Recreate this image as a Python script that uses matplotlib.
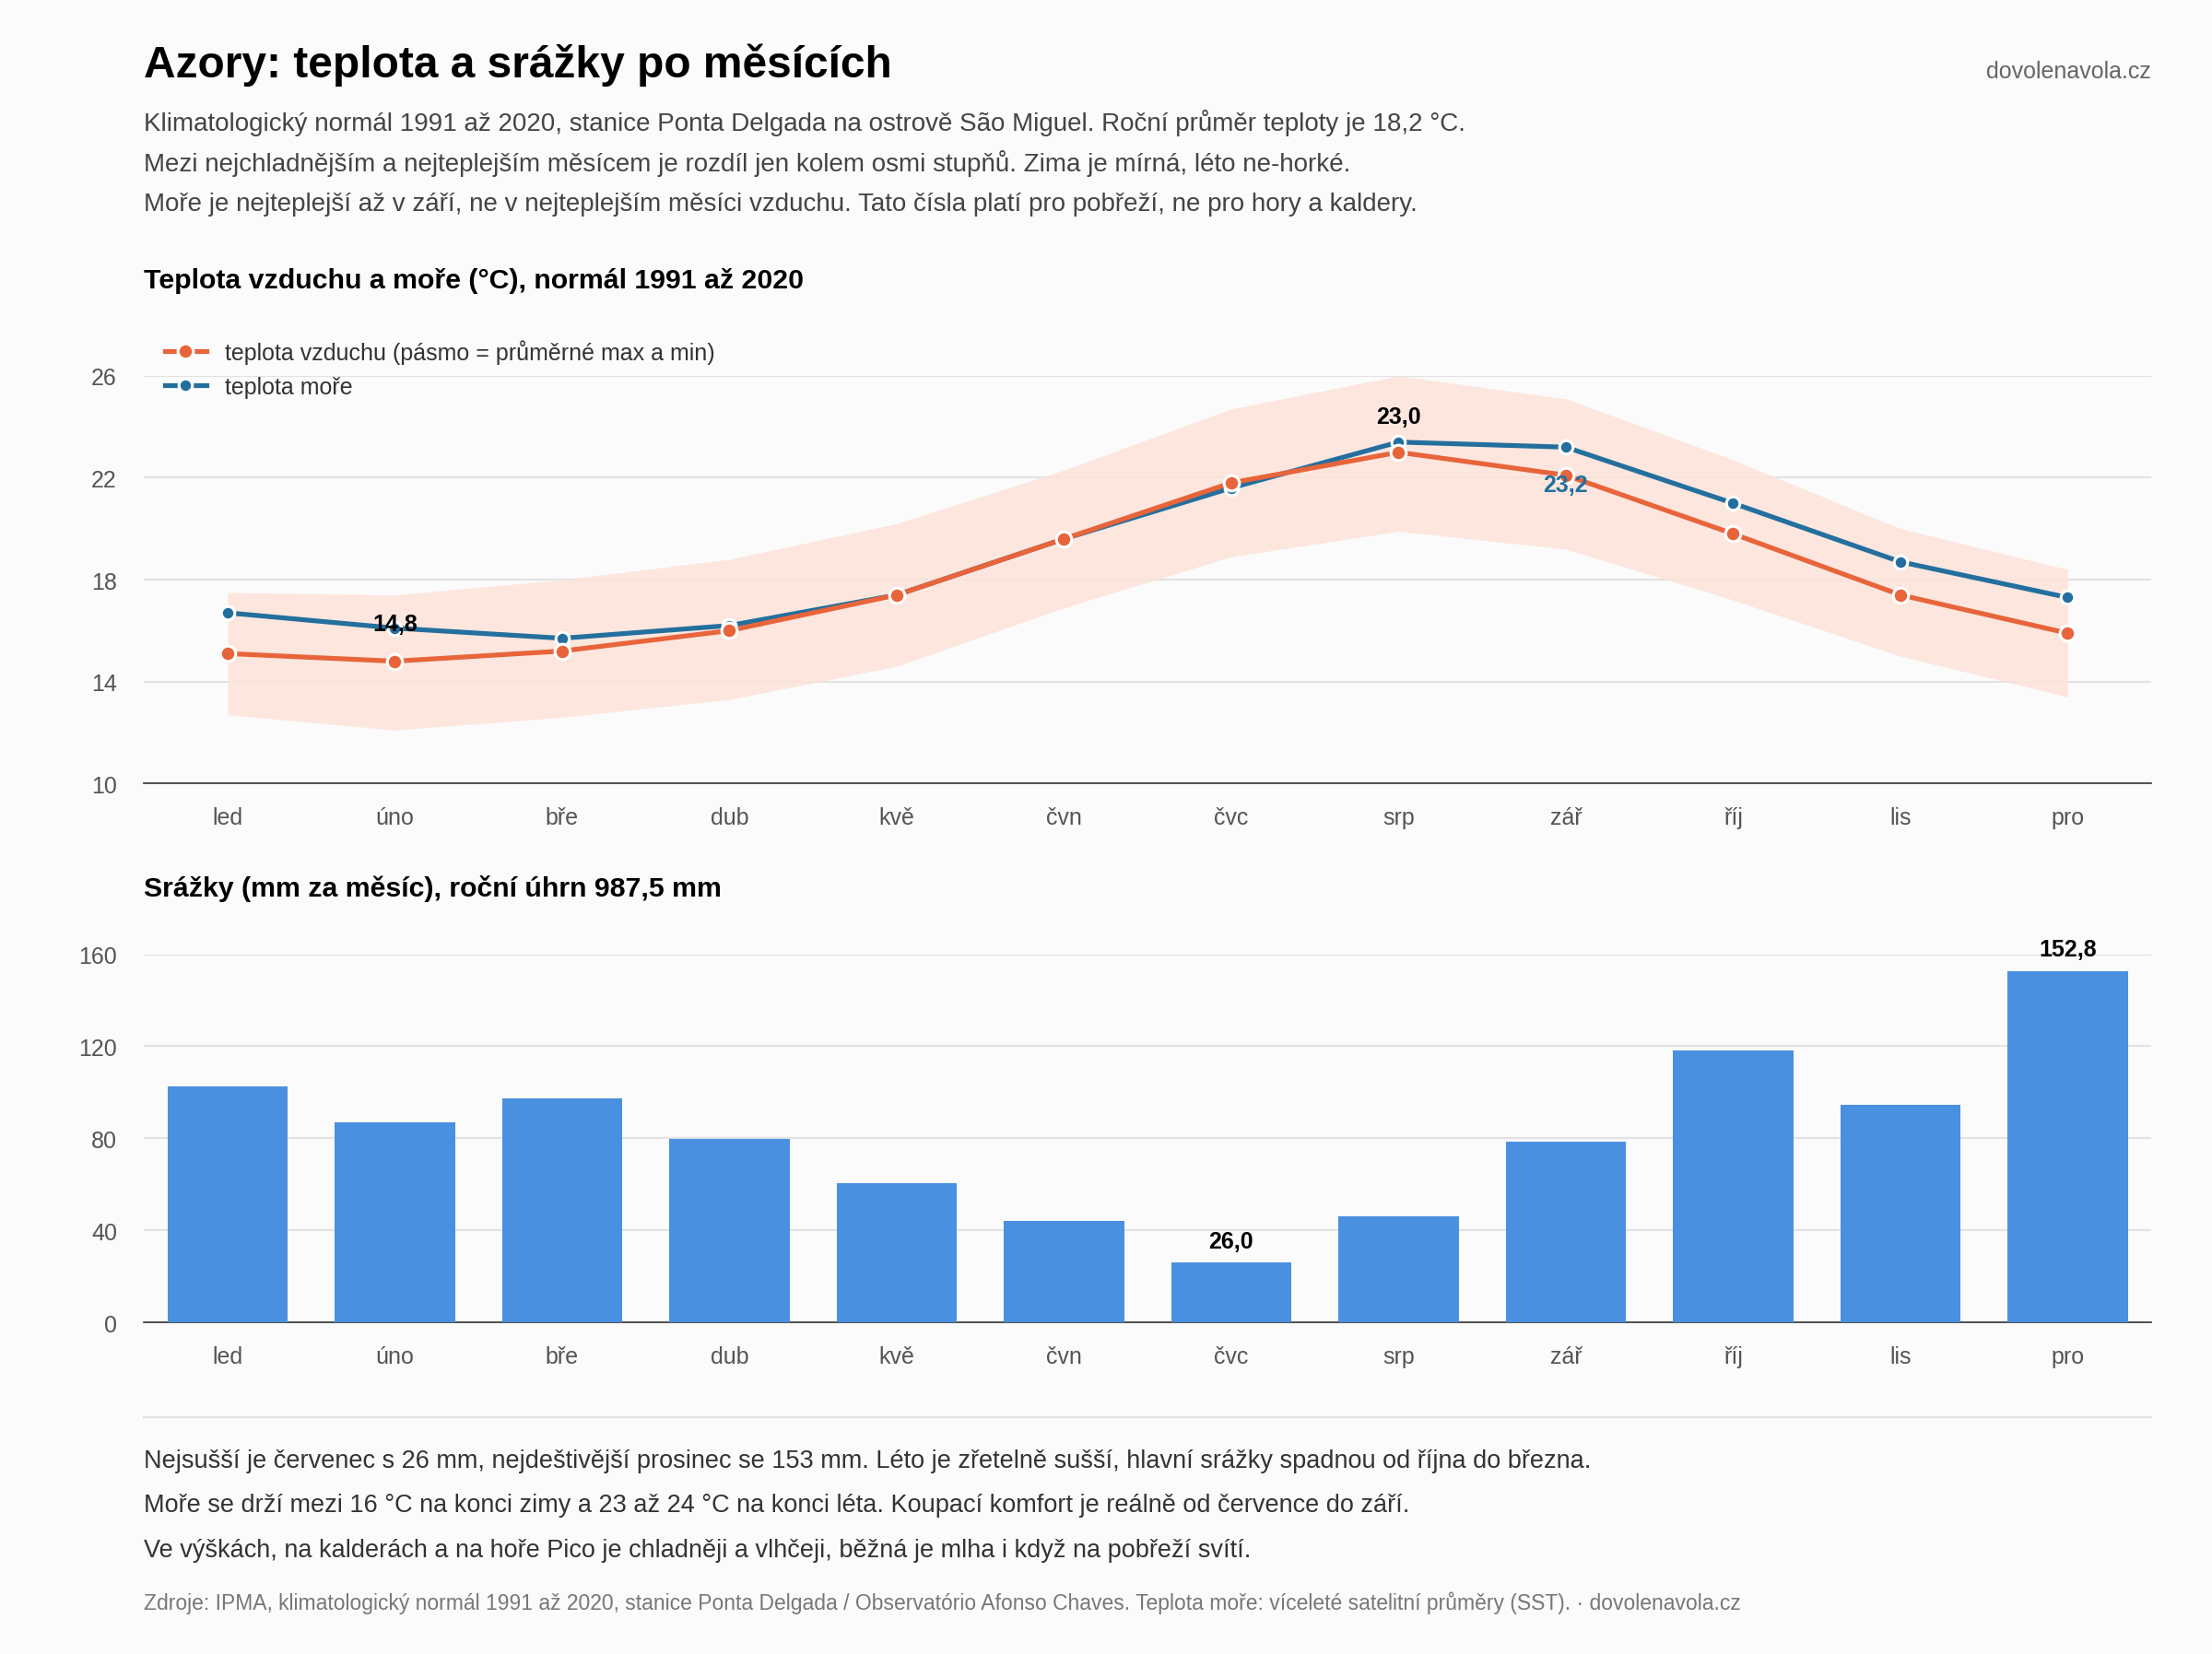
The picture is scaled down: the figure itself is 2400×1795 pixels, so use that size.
import matplotlib

matplotlib.use("Agg")
import matplotlib.pyplot as plt

plt.rcParams["font.family"] = ["Liberation Sans", "DejaVu Sans"]

mesice = ["led", "úno", "bře", "dub", "kvě", "čvn", "čvc", "srp", "zář", "říj", "lis", "pro"]
teplota_vzduchu = [15.1, 14.8, 15.2, 16.0, 17.4, 19.6, 21.8, 23.0, 22.1, 19.8, 17.4, 15.9]
teplota_max = [17.5, 17.4, 18.0, 18.8, 20.2, 22.3, 24.7, 26.0, 25.1, 22.7, 20.0, 18.4]
teplota_min = [12.7, 12.1, 12.6, 13.3, 14.6, 16.9, 18.9, 19.9, 19.2, 17.2, 15.0, 13.4]
teplota_more = [16.7, 16.1, 15.7, 16.2, 17.4, 19.6, 21.6, 23.4, 23.2, 21.0, 18.7, 17.3]
srazky = [102.4, 87.0, 97.5, 79.7, 60.7, 44.0, 26.0, 46.0, 78.5, 118.3, 94.6, 152.8]

W, H = 1568, 1173
BG = "#fbfbfb"
ORANZ = "#e8643a"
MODRA = "#236f9e"
PASMO = "#fde3d9"
SLOUPCE = "#4a90e0"
SEDA = "#444444"


def fx(px):
    return px / W


def fy(py):
    return 1 - py / H


fig = plt.figure(figsize=(16, 11.973), dpi=150, facecolor=BG)

fig.text(fx(102), fy(46), "Azory: teplota a srážky po měsících", fontsize=23, weight="bold", va="center")
fig.text(fx(1525), fy(51), "dovolenavola.cz", fontsize=12, color="#666666", ha="right", va="center")
uvod = [
    "Klimatologický normál 1991 až 2020, stanice Ponta Delgada na ostrově São Miguel. Roční průměr teploty je 18,2 °C.",
    "Mezi nejchladnějším a nejteplejším měsícem je rozdíl jen kolem osmi stupňů. Zima je mírná, léto ne-horké.",
    "Moře je nejteplejší až v září, ne v nejteplejším měsíci vzduchu. Tato čísla platí pro pobřeží, ne pro hory a kaldery.",
]
for i, t in enumerate(uvod):
    fig.text(fx(102), fy(87 + i * 29), t, fontsize=13.3, color=SEDA, va="center")

fig.text(fx(102), fy(199), "Teplota vzduchu a moře (°C), normál 1991 až 2020", fontsize=14.5, weight="bold", va="center")
fig.text(fx(102), fy(630), "Srážky (mm za měsíc), roční úhrn 987,5 mm", fontsize=14.5, weight="bold", va="center")

x = list(range(12))

# horní graf: teploty
ax1 = fig.add_axes([fx(102), fy(556), fx(1525) - fx(102), fy(267) - fy(556)], facecolor=BG)
ax1.fill_between(x, teplota_min, teplota_max, color=PASMO, lw=0, alpha=0.85)
ax1.plot(x, teplota_more, color=MODRA, lw=2.5, marker="o", ms=7, mfc=MODRA, mec="white", mew=1.5,
         label="teplota moře", zorder=3)
ax1.plot(x, teplota_vzduchu, color=ORANZ, lw=2.5, marker="o", ms=8, mfc=ORANZ, mec="white", mew=1.5,
         label="teplota vzduchu (pásmo = průměrné max a min)", zorder=4)
ax1.set_xlim(-0.5, 11.5)
ax1.set_ylim(10, 26)
ax1.set_yticks([10, 14, 18, 22, 26])
ax1.annotate("14,8", (1, teplota_vzduchu[1]), xytext=(0, 16), textcoords="offset points",
             ha="center", fontsize=12, weight="bold", zorder=5)
ax1.annotate("23,0", (7, teplota_more[7]), xytext=(0, 10), textcoords="offset points",
             ha="center", fontsize=12, weight="bold", zorder=5)
ax1.annotate("23,2", (8, teplota_more[8]), xytext=(0, -23), textcoords="offset points",
             ha="center", fontsize=12, weight="bold", color=MODRA, zorder=5)
h, l = ax1.get_legend_handles_labels()
ax1.legend(h[::-1], l[::-1], loc="upper left", bbox_to_anchor=(0, 1.14), frameon=False,
           fontsize=12, handlelength=1.8, labelcolor="#333333")

# dolní graf: srážky
ax2 = fig.add_axes([fx(102), fy(938), fx(1525) - fx(102), fy(677) - fy(938)], facecolor=BG)
ax2.bar(x, srazky, width=0.72, color=SLOUPCE, zorder=3)
ax2.set_xlim(-0.5, 11.5)
ax2.set_ylim(0, 160)
ax2.set_yticks([0, 40, 80, 120, 160])
ax2.annotate("26,0", (6, srazky[6]), xytext=(0, 8), textcoords="offset points",
             ha="center", fontsize=12, weight="bold", annotation_clip=False)
ax2.annotate("152,8", (11, srazky[11]), xytext=(0, 8), textcoords="offset points",
             ha="center", fontsize=12, weight="bold", annotation_clip=False)

for ax in (ax1, ax2):
    ax.set_xticks(x)
    ax.set_xticklabels(mesice)
    ax.grid(axis="y", color="#e2e2e2", lw=1, zorder=0)
    ax.set_axisbelow(True)
    for s in ("top", "right", "left"):
        ax.spines[s].set_visible(False)
    ax.spines["bottom"].set_color("#333333")
    ax.tick_params(axis="both", length=0, labelsize=12, labelcolor="#555555")
    ax.tick_params(axis="x", pad=12)
    ax.tick_params(axis="y", pad=14)

fig.add_artist(plt.Line2D([fx(102), fx(1525)], [fy(1005), fy(1005)], color="#e2e2e2", lw=1))
zaver = [
    "Nejsušší je červenec s 26 mm, nejdeštivější prosinec se 153 mm. Léto je zřetelně sušší, hlavní srážky spadnou od října do března.",
    "Moře se drží mezi 16 °C na konci zimy a 23 až 24 °C na konci léta. Koupací komfort je reálně od července do září.",
    "Ve výškách, na kalderách a na hoře Pico je chladněji a vlhčeji, běžná je mlha i když na pobřeží svítí.",
]
for i, t in enumerate(zaver):
    fig.text(fx(102), fy(1036 + i * 31.5), t, fontsize=13, color="#333333", va="center")
fig.text(fx(102), fy(1136),
         "Zdroje: IPMA, klimatologický normál 1991 až 2020, stanice Ponta Delgada / Observatório Afonso Chaves. "
         "Teplota moře: víceleté satelitní průměry (SST). · dovolenavola.cz",
         fontsize=11, color="#777777", va="center")

fig.savefig("out.png", dpi=150, facecolor=BG)
